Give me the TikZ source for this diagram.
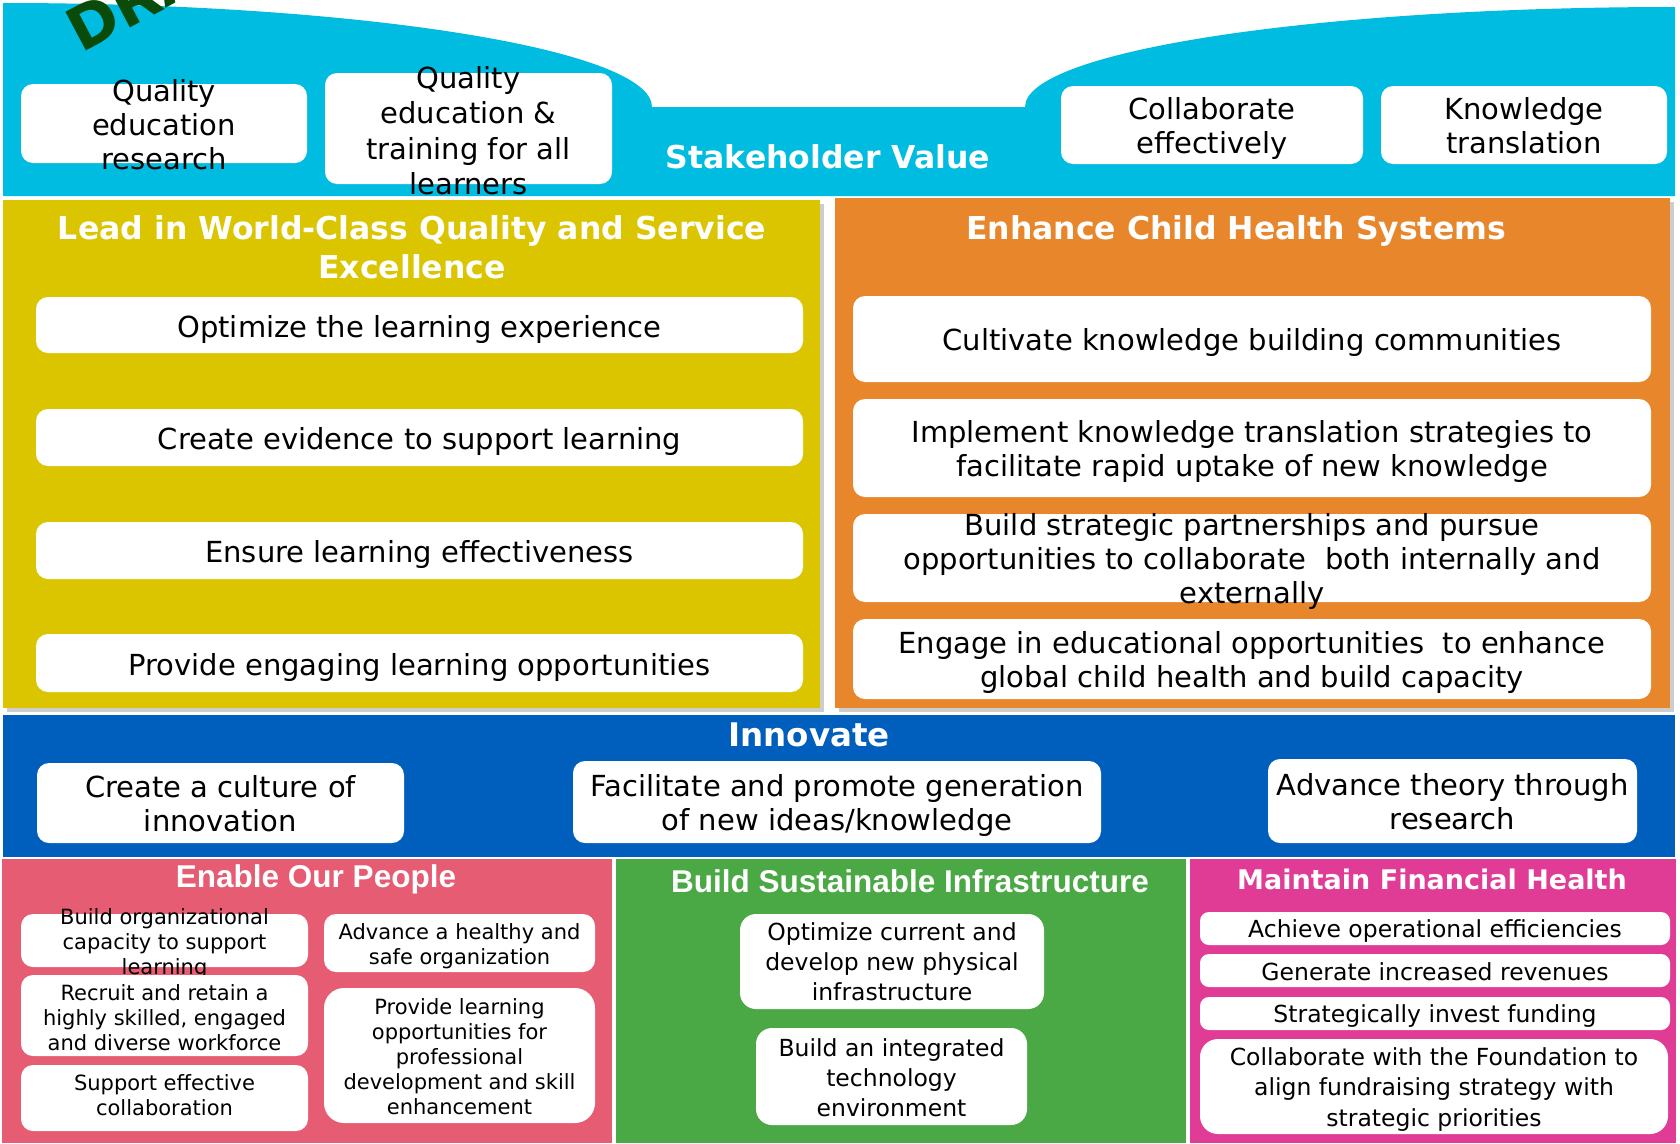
\documentclass[tikz,border=0pt]{standalone}
\usepackage{fontspec}
\setmainfont{DejaVu Sans}
\newfontfamily\arialf{Liberation Sans}
\usetikzlibrary{fit}
\definecolor{cyanband}{RGB}{0,188,224}
\definecolor{yel}{RGB}{219,197,0}
\definecolor{ora}{RGB}{232,134,44}
\definecolor{blu}{RGB}{0,94,188}
\definecolor{pnk}{RGB}{230,92,114}
\definecolor{grn}{RGB}{75,169,69}
\definecolor{mag}{RGB}{224,60,150}
\definecolor{wmark}{RGB}{10,75,10}
\definecolor{shad}{RGB}{205,205,205}
\begin{document}
\begin{tikzpicture}[x=1pt,y=-1pt,
  wbox/.style={draw=none, fill=white, rounded corners=12pt, inner sep=0pt},
  txt/.style={align=center, inner sep=0pt, text=black, yshift=-3pt},
  fa/.style={font=\fontsize{29}{34}\selectfont},
  fb/.style={font=\fontsize{21}{25}\selectfont},
  fc/.style={font=\fontsize{23.5}{30}\selectfont},
  ttl/.style={text=white, font=\fontsize{31.5}{39}\selectfont\bfseries, align=center, inner sep=0pt},
  attl/.style={text=white, font=\fontsize{31.5}{39}\selectfont\arialf\bfseries, align=center, inner sep=0pt},
  panel/.style={draw=none, inner sep=0pt}
]
\useasboundingbox (0,0) rectangle (1680,1143);
\clip (0,0) rectangle (1680,1143);
\fill[white] (0,0) rectangle (1680,1143);

% ---------- Stakeholder band ----------
\fill[cyanband] (3,3) .. controls (361.4,3) and (652,49.6) .. (652,107)
  -- (1025,107) .. controls (1025,51) and (1316,7) .. (1675,7)
  -- (1675,196) -- (3,196) -- cycle;
\node[text=wmark, font=\fontsize{60}{60}\selectfont\bfseries, rotate=28, anchor=base west, inner sep=0pt] (wm) at (81,54) {DRAFT};
\node[ttl] (sv) at (828,157) {Stakeholder Value};

\node[wbox, fit={(21,84)(307,163)}] (q1) {};
\node[txt, fa] (q1t) at ([yshift=2]q1.center) {Quality\\education\\research};
\node[wbox, fit={(325,73)(612,184)}] (q2) {};
\node[txt, font=\fontsize{29}{35.5}\selectfont] (q2t) at ([yshift=1]q2.center) {Quality\\education \&\\training for all\\learners};
\node[wbox, fit={(1061,86)(1363,164)}] (q3) {};
\node[txt, fa] (q3t) at (q3.center) {Collaborate\\effectively};
\node[wbox, fit={(1381,86)(1667,164)}] (q4) {};
\node[txt, fa] (q4t) at ([yshift=2]q4.center) {Knowledge\\translation};

% ---------- Lead in World-Class ----------
\fill[shad] (7,204) rectangle (824,712);
\node[panel, fill=yel, fit={(3,200)(820,708)}] (yp) {};
\node[ttl] (ytt) at (412,247) {Lead in World-Class Quality and Service\\Excellence};
\node[wbox, fit={(36,297)(803,353)}] (y1) {};
\node[txt, fa] (y1t) at ([yshift=-1]y1.center) {Optimize the learning experience};
\node[wbox, fit={(36,409)(803,466)}] (y2) {};
\node[txt, fa] (y2t) at ([yshift=-1]y2.center) {Create evidence to support learning};
\node[wbox, fit={(36,522)(803,579)}] (y3) {};
\node[txt, fa] (y3t) at ([yshift=-1]y3.center) {Ensure learning effectiveness};
\node[wbox, fit={(36,634)(803,692)}] (y4) {};
\node[txt, fa] (y4t) at ([yshift=-1]y4.center) {Provide engaging learning opportunities};

% ---------- Enhance Child Health Systems ----------
\fill[shad] (839,202) rectangle (1674,712);
\node[panel, fill=ora, fit={(835,198)(1670,708)}] (op) {};
\node[ttl] (ott) at (1236,231) {Enhance Child Health Systems};
\node[wbox, fit={(853,296)(1651,382)}] (o1) {};
\node[txt, fa] (o1t) at (o1.center) {Cultivate knowledge building communities};
\node[wbox, fit={(853,399)(1651,497)}] (o2) {};
\node[txt, fa] (o2t) at (o2.center) {Implement knowledge translation strategies to\\facilitate rapid uptake of new knowledge};
\node[wbox, fit={(853,514)(1651,602)}] (o3) {};
\node[txt, fa] (o3t) at (o3.center) {Build strategic partnerships and pursue\\opportunities to collaborate\ \ both internally and\\externally};
\node[wbox, fit={(853,619)(1651,699)}] (o4) {};
\node[txt, fa] (o4t) at (o4.center) {Engage in educational opportunities\ \ to enhance\\global child health and build capacity};

% ---------- Innovate ----------
\node[panel, fill=blu, fit={(3,715)(1675,857)}] (ip) {};
\node[ttl, font=\fontsize{32.5}{39}\selectfont\bfseries] (itt) at (809,735) {Innovate};
\node[wbox, fit={(37,763)(404,843)}] (i1) {};
\node[txt, fa] (i1t) at ([yshift=2]i1.center) {Create a culture of\\innovation};
\node[wbox, fit={(573,761)(1101,843)}] (i2) {};
\node[txt, fa] (i2t) at (i2.center) {Facilitate and promote generation\\of new ideas/knowledge};
\node[wbox, fit={(1268,759)(1637,843)}] (i3) {};
\node[txt, fa] (i3t) at ([yshift=2]i3.center) {Advance theory through\\research};

% ---------- Enable Our People ----------
\node[panel, fill=pnk, fit={(2,859)(612,1143)}] (pp) {};
\node[attl] (ptt) at (316,879) {Enable Our People};
\node[wbox, fit={(21,914)(308,967)}] (p1) {};
\node[txt, fb] (p1t) at (p1.center) {Build organizational\\capacity to support\\learning};
\node[wbox, fit={(21,975)(308,1056)}] (p2) {};
\node[txt, fb] (p2t) at ([yshift=1]p2.center) {Recruit and retain a\\highly skilled, engaged\\and diverse workforce};
\node[wbox, fit={(21,1065)(308,1131)}] (p3) {};
\node[txt, fb] (p3t) at ([yshift=6]p3.center) {Support effective\\collaboration};
\node[wbox, fit={(324,914)(595,972)}] (p4) {};
\node[txt, fb] (p4t) at (p4.center) {Advance a healthy and\\safe organization};
\node[wbox, rounded corners=20pt, fit={(324,988)(595,1123)}] (p5) {};
\node[txt, fb] (p5t) at ([yshift=2]p5.center) {Provide learning\\opportunities for\\professional\\development and skill\\enhancement};

% ---------- Build Sustainable Infrastructure ----------
\node[panel, fill=grn, fit={(616,859)(1186,1143)}] (gp) {};
\node[attl] (gtt) at (910,881) {Build Sustainable Infrastructure};
\node[wbox, rounded corners=16pt, fit={(740,914)(1044,1009)}] (g1) {};
\node[txt, fc] (g1t) at ([yshift=3]g1.center) {Optimize current and\\develop new physical\\infrastructure};
\node[wbox, rounded corners=16pt, fit={(756,1028)(1027,1125)}] (g2) {};
\node[txt, fc] (g2t) at ([yshift=2]g2.center) {Build an integrated\\technology\\environment};

% ---------- Maintain Financial Health ----------
\node[panel, fill=mag, fit={(1190,859)(1676,1143)}] (mp) {};
\node[ttl, font=\fontsize{27}{33}\selectfont\bfseries] (mtt) at (1432,879) {Maintain Financial Health};
\node[wbox, rounded corners=9pt, fit={(1200,912)(1670,945)}] (m1) {};
\node[txt, fc] (m1t) at (m1.center) {Achieve operational efficiencies};
\node[wbox, rounded corners=9pt, fit={(1200,954)(1670,987)}] (m2) {};
\node[txt, fc] (m2t) at ([yshift=2]m2.center) {Generate increased revenues};
\node[wbox, rounded corners=9pt, fit={(1200,997)(1670,1030)}] (m3) {};
\node[txt, fc] (m3t) at (m3.center) {Strategically invest funding};
\node[wbox, rounded corners=18pt, fit={(1200,1039)(1668,1134)}] (m4) {};
\node[txt, fc] (m4t) at (m4.center) {Collaborate with the Foundation to\\align fundraising strategy with\\strategic priorities};
\end{tikzpicture}
\end{document}
